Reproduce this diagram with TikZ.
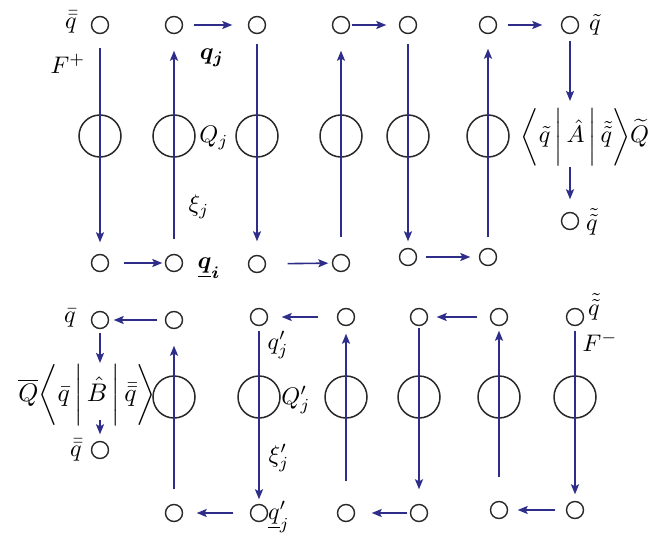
\documentclass[tikz,border=0pt]{standalone}
\usepackage{amsmath,bm}
\usetikzlibrary{arrows.meta,calc}
\definecolor{flowblue}{RGB}{46,46,138}
\definecolor{ringgray}{RGB}{40,40,40}
\begin{document}
\begin{tikzpicture}[x=1pt,y=-1pt,
  dot/.style={circle,draw=ringgray,line width=1.4pt,minimum size=17pt,inner sep=0pt},
  ring/.style={circle,draw=ringgray,line width=1.5pt,minimum size=42pt,inner sep=0pt},
  flow/.style={draw=flowblue,line width=1.6pt,-{Stealth[length=10pt,width=8pt,inset=2pt]}},
  lbl/.style={inner sep=0pt,scale=2.4},
]
\useasboundingbox[fill=white] (0,0) rectangle (652,537);

% ---------- upper loop ----------
\foreach \n/\x/\y in {T1/100/25,T2/174/25,T3/257/25,T4/341/25,T5/408/25,T6/488/25,T7/570/25,
                      D1/100/263,D2/174/263,D3/257/264,D4/341/263,D5/408/257,D6/488/257,E7/570/221}
  \node[dot] (\n) at (\x,\y) {};
\foreach \n/\x in {R1/100,R2/174,R3/257,R4/341,R5/408,R6/488}
  \node[ring] (\n) at (\x,136) {};

\node[lbl] (lqbb) at (71,22) {$\bar{\bar q}$};
\node[lbl] (lFp) at (68,64) {$F^{+}$};
\node[lbl] (lqj) at (212,58) {$\bm{q_j}$};
\node[lbl] (lQj) at (214,138) {$Q_j$};
\node[lbl] (lxij) at (199,207) {$\xi_j$};
\node[lbl] (lqi) at (209,268) {$\bm{\underline{q}_i}$};
\node[lbl] (lqt) at (595,25) {$\tilde q$};
\node[lbl] (A) at (585,137) {$\bigg\langle\tilde q\,\bigg|\,\hat A\,\bigg|\,\tilde{\tilde q}\bigg\rangle\widetilde Q$};
\node[lbl] (lqtt) at (592,222) {$\tilde{\tilde q}$};
\coordinate (aTop) at (570,101);
\coordinate (aBot) at (570,167);

\draw[flow,shorten <=13.5pt,shorten >=11.5pt] (T1) -- (D1);
\draw[flow,shorten <=14.5pt,shorten >=16.5pt] (D2) -- (T2);
\draw[flow,shorten <=9.5pt,shorten >=13.5pt] (T3) -- (D3);
\draw[flow,shorten <=16.5pt,shorten >=16.5pt] (D4) -- (T4);
\draw[flow,shorten <=9.5pt,shorten >=6.5pt] (T5) -- (D5);
\draw[flow,shorten <=10.5pt,shorten >=14.5pt] (D6) -- (T6);
\draw[flow,shorten <=6.5pt] (T7) -- (aTop);
\draw[flow,shorten >=12.5pt] (aBot) -- (E7);

\draw[flow,shorten <=10.5pt,shorten >=15.5pt] (T2) -- (T3);
\draw[flow,shorten <=1.5pt,shorten >=12.5pt] (T4) -- (T5);
\draw[flow,shorten <=10.5pt,shorten >=18.5pt] (T6) -- (T7);
\draw[flow,shorten <=14.5pt,shorten >=2.5pt] (D1) -- (D2);
\draw[flow,shorten <=21.5pt,shorten >=3.5pt] (D3) -- (D4);
\draw[flow,shorten <=8.5pt,shorten >=8.5pt] (D5) -- (D6);

% ---------- lower loop ----------
\foreach \n/\x/\y in {U1/100/320,U2/174/320,U3/259/317,U4/346/317,U5/419/317,U6/499/317,U7/575/317,
                      L1/100/450,L2/174/513,L3/259/513,L4/346/513,L5/419/513,L6/499/510,L7/575/510}
  \node[dot] (\n) at (\x,\y) {};
\foreach \n/\x in {S2/174,S3/259,S4/346,S5/419,S6/499,S7/575}
  \node[ring] (\n) at (\x,397) {};

\node[lbl] (lqb) at (70,318) {$\bar q$};
\node[lbl,scale=1.06] (B) at (87,395) {$\overline{Q}\bigg\langle\bar q\,\bigg|\,\hat B\,\bigg|\,\bar{\bar q}\bigg\rangle$};
\node[lbl] (lqbb2) at (76,450) {$\bar{\bar q}$};
\node[lbl] (lqpj) at (278,345) {$q'_j$};
\node[lbl] (lQpj) at (296,400) {$Q'_j$};
\node[lbl] (lxipj) at (279,458) {$\xi'_j$};
\node[lbl] (lqpu) at (279,517) {$\underline{q}'_j$};
\node[lbl] (lqtt2) at (594,307) {$\tilde{\tilde q}$};
\node[lbl] (lFm) at (600,342) {$F^{-}$};
\coordinate (bTop) at (100,363);
\coordinate (bBot) at (100,420);

\draw[flow,shorten <=4.5pt,shorten >=6.5pt] (U7) -- (L7);
\draw[flow,shorten <=23.5pt,shorten >=4.5pt] (L6) -- (U6);
\draw[flow,shorten <=2pt,shorten >=14.5pt] (U5) -- (L5);
\draw[flow,shorten <=22.5pt,shorten >=7.5pt] (L4) -- (U4);
\draw[flow,shorten <=4.5pt,shorten >=4.5pt] (U3) -- (L3);
\draw[flow,shorten <=14.5pt,shorten >=16.5pt] (L2) -- (U2);
\draw[flow,shorten <=3.5pt] (U1) -- (bTop);
\draw[flow,shorten >=6.5pt] (bBot) -- (L1);

\draw[flow,shorten <=7.5pt,shorten >=4.5pt] (U2) -- (U1);
\draw[flow,shorten <=18.5pt,shorten >=13.5pt] (U4) -- (U3);
\draw[flow,shorten <=12.5pt,shorten >=8.5pt] (U6) -- (U5);
\draw[flow,shorten <=10.5pt,shorten >=9.5pt] (L7) -- (L6);
\draw[flow,shorten <=2.5pt,shorten >=16.5pt] (L5) -- (L4);
\draw[flow,shorten <=16.5pt,shorten >=13.5pt] (L3) -- (L2);
\end{tikzpicture}
\end{document}
